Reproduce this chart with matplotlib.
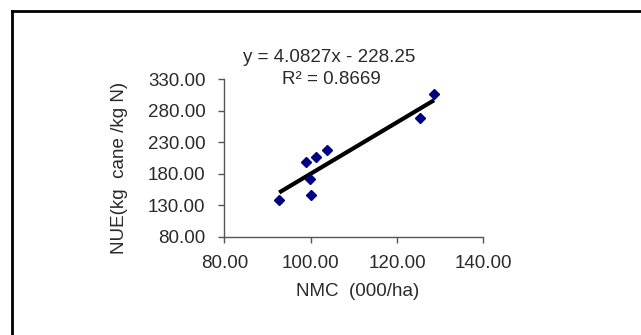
import numpy as np
import matplotlib
matplotlib.use("Agg")
import matplotlib.pyplot as plt
from matplotlib.lines import Line2D

# data
nmc = [92.7, 98.9, 99.9, 100.1, 101.3, 103.8, 125.4, 128.6]
nue = [138.3, 198.2, 171.2, 146.2, 207.0, 217.2, 268.5, 306.2]
slope, intercept = 4.0827, -228.25
r2 = 0.8669
xticks = [80, 100, 120, 140]
yticks = [80, 130, 180, 230, 280, 330]

plt.rcParams['font.family'] = ['Liberation Sans', 'DejaVu Sans']
txt = '#2a2a2a'
fs = 13.5

fig = plt.figure(figsize=(6.41, 3.35), dpi=100)
ax = fig.add_axes([0.350, 0.2934, 0.404, 0.4699])

xs = np.array([min(nmc), max(nmc)])
ax.plot(xs, slope * xs + intercept, color='black', lw=3, solid_capstyle='butt', zorder=2)
ax.plot(nmc, nue, 'D', color='#000080', ms=5.3, mec='#000080', zorder=3)

ax.set_xlim(80, 140)
ax.set_ylim(80, 330)
ax.set_xticks(xticks)
ax.set_yticks(yticks)
ax.set_xticklabels(['%.2f' % v for v in xticks])
ax.set_yticklabels(['%.2f' % v for v in yticks])

for s in ['top', 'right']:
    ax.spines[s].set_visible(False)
for s in ['left', 'bottom']:
    ax.spines[s].set_color('#555555')
    ax.spines[s].set_linewidth(1.0)
ax.tick_params(direction='out', length=4.5, width=1.0, color='#555555',
               labelsize=fs, labelcolor=txt)
ax.tick_params(axis='x', pad=9)
ax.tick_params(axis='y', pad=9)

ax.set_xlabel('NMC  (000/ha)', fontsize=fs, color=txt)
ax.set_ylabel('NUE(kg  cane /kg N)', fontsize=fs, color=txt)
ax.xaxis.set_label_coords(0.516, -0.295)
ax.yaxis.set_label_coords(-0.372, 0.436)

fig.text(329 / 641, 1 - 57 / 335, 'y = 4.0827x - 228.25', fontsize=fs, color=txt,
         ha='center', va='center')
fig.text(331 / 641, 1 - 79 / 335, 'R² = %.4f' % r2, fontsize=fs, color=txt,
         ha='center', va='center')

# frame lines on the left and top edges
fig.add_artist(Line2D([12 / 641, 12 / 641], [0, 1 - 11 / 335], transform=fig.transFigure,
                      color='black', lw=2))
fig.add_artist(Line2D([12 / 641, 1], [1 - 11 / 335, 1 - 11 / 335], transform=fig.transFigure,
                      color='black', lw=2))

fig.savefig('out.png', dpi=100)
